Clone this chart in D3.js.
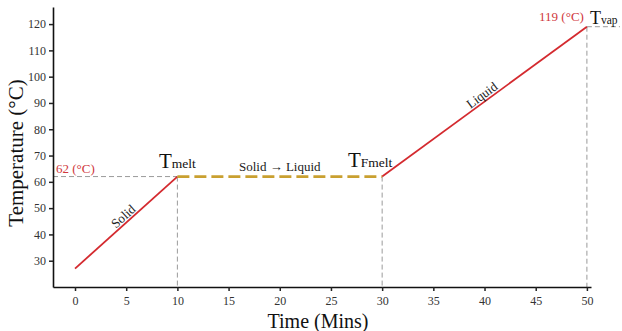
<!DOCTYPE html>
<html>
<head>
<meta charset="utf-8">
<title>Temperature vs Time</title>
<script src="https://d3js.org/d3.v7.min.js"></script>
<style>
  body { margin: 0; background: #fff; }
  svg text { font-family: "Liberation Serif", "Times New Roman", Times, "DejaVu Serif", serif !important; }
</style>
</head>
<body>
<div id="plot"></div>
<script>
// data
var time = [0, 10, 30, 50]
var temp = [27, 62, 62, 119]
var xTicks = [0, 5, 10, 15, 20, 25, 30, 35, 40, 45, 50]
var yTicks = [30, 40, 50, 60, 70, 80, 90, 100, 110, 120]

var W = 622, H = 331
var svg = d3.select('#plot').append('svg').attr('width', W).attr('height', H)

var x = d3.scaleLinear().domain([-2.15, 50.4]).range([53, 591])
var y = d3.scaleLinear().domain([20, 126.5]).range([287, 7])

var pts = time.map(function(t, i){ return {t: t, v: temp[i]} })

// guide lines
var grey = '#9a9a9a'
function guide(x1, y1, x2, y2){
  svg.append('line')
    .attr('x1', x1).attr('y1', y1).attr('x2', x2).attr('y2', y2)
    .attr('stroke', grey).attr('stroke-width', 1).attr('stroke-dasharray', '5,3')
}
guide(x.range()[0], y(temp[1]), x(time[1]), y(temp[1]))
guide(x(time[1]), y(temp[1]), x(time[1]), y.range()[0])
guide(x(time[2]), y(temp[2]), x(time[2]), y.range()[0])
guide(x(time[3]), y(temp[3]), x(time[3]), y.range()[0])
guide(x(time[3]), y(temp[3]), 620, y(temp[3]))

// axes
var xAxis = svg.append('g').attr('transform', 'translate(0,' + y.range()[0] + ')')
  .call(d3.axisBottom(x).tickValues(xTicks).tickSize(4).tickSizeOuter(0))
var yAxis = svg.append('g').attr('transform', 'translate(' + x.range()[0] + ',0)')
  .call(d3.axisLeft(y).tickValues(yTicks).tickSize(4).tickSizeOuter(0))
;[xAxis, yAxis].forEach(function(a){
  a.attr('font-family', null)
  a.select('.domain').attr('stroke', '#111').attr('stroke-width', 1.6)
  a.selectAll('.tick line').attr('stroke', '#222').attr('stroke-width', 1.5)
  a.selectAll('.tick text').attr('fill', '#333').style('font-size', '12px')
})
xAxis.selectAll('.tick text').attr('dy', '0.95em')

// series
var line = d3.line().x(function(d){ return x(d.t) }).y(function(d){ return y(d.v) })
svg.append('path').datum(pts.slice(0, 2)).attr('d', line)
  .attr('fill', 'none').attr('stroke', '#d42a2f').attr('stroke-width', 1.8)
svg.append('path').datum(pts.slice(2, 4)).attr('d', line)
  .attr('fill', 'none').attr('stroke', '#d42a2f').attr('stroke-width', 1.8)
svg.append('path').datum(pts.slice(1, 3)).attr('d', line)
  .attr('fill', 'none').attr('stroke', '#c9a030').attr('stroke-width', 2.6)
  .attr('stroke-dasharray', '12,5')

// annotations
function rotLabel(a, b, txt, off){
  var x1 = x(a.t), y1 = y(a.v), x2 = x(b.t), y2 = y(b.v)
  var ang = Math.atan2(y2 - y1, x2 - x1) * 180 / Math.PI
  svg.append('text')
    .attr('transform', 'translate(' + ((x1 + x2) / 2) + ',' + ((y1 + y2) / 2 - off) + ') rotate(' + ang + ')')
    .attr('text-anchor', 'middle').style('font-size', '13px').attr('fill', '#222').text(txt)
}
rotLabel(pts[0], pts[1], 'Solid', 3)
rotLabel(pts[2], pts[3], 'Liquid', 3)

svg.append('text').attr('x', (x(time[1]) + x(time[2])) / 2).attr('y', y(temp[1]) - 6)
  .attr('text-anchor', 'middle').style('font-size', '13px').attr('fill', '#222')
  .text('Solid \u2192 Liquid')

svg.append('text').attr('x', 56).attr('y', y(temp[1]) - 4)
  .style('font-size', '13px').attr('fill', '#d0383c').text(temp[1] + ' (\u00B0C)')
svg.append('text').attr('x', x(time[3]) - 3).attr('y', y(temp[3]) - 6)
  .attr('text-anchor', 'end').style('font-size', '13px').attr('fill', '#d0383c')
  .text(temp[3] + ' (\u00B0C)')

function tLabel(xp, yp, sub, anchor, big, small){
  var t = svg.append('text').attr('x', xp).attr('y', yp).attr('text-anchor', anchor).attr('fill', '#111')
  t.append('tspan').style('font-size', big + 'px').text('T')
  t.append('tspan').style('font-size', small + 'px').text(sub)
}
tLabel(x(time[1]), y(temp[1]) - 9, 'melt', 'middle', 21, 13.5)
tLabel(x(time[2]) - 12, y(temp[2]) - 10, 'Fmelt', 'middle', 21, 13.5)
tLabel(x(time[3]) + 3, y(temp[3]) - 3, 'vap', 'start', 18, 11.5)

// axis titles
svg.append('text').attr('x', 318).attr('y', 328).attr('text-anchor', 'middle')
  .style('font-size', '20px').attr('fill', '#111').text('Time (Mins)')
svg.append('text').attr('transform', 'translate(23,153) rotate(-90)').attr('text-anchor', 'middle')
  .style('font-size', '21px').attr('fill', '#111').text('Temperature (\u00B0C)')
</script>
</body>
</html>
